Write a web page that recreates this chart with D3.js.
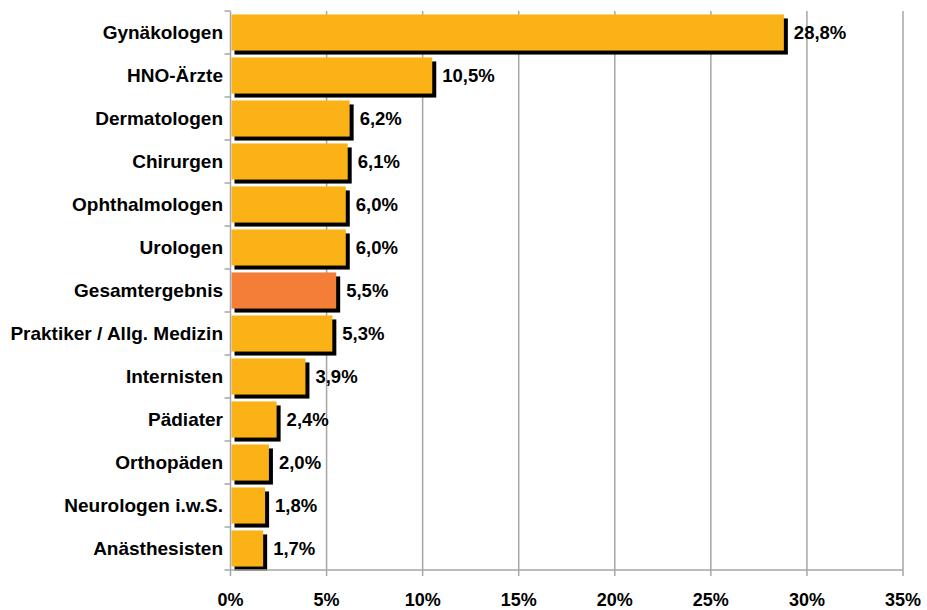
<!DOCTYPE html>
<html>
<head>
<meta charset="utf-8">
<script src="https://cdn.jsdelivr.net/npm/d3@7"></script>
<style>
  body { margin: 0; background: #fff; }
  svg { display: block; font-family: "Liberation Sans", Arial, sans-serif; }
</style>
</head>
<body>
<svg id="chart" width="927" height="610"></svg>
<script>
const categories = ["Gynäkologen", "HNO-Ärzte", "Dermatologen", "Chirurgen", "Ophthalmologen",
  "Urologen", "Gesamtergebnis", "Praktiker / Allg. Medizin", "Internisten", "Pädiater",
  "Orthopäden", "Neurologen i.w.S.", "Anästhesisten"];
const values = [28.8, 10.5, 6.2, 6.1, 6.0, 6.0, 5.5, 5.3, 3.9, 2.4, 2.0, 1.8, 1.7];
const highlight = "Gesamtergebnis";
const xTicks = [0, 5, 10, 15, 20, 25, 30, 35];

const svg = d3.select("#chart");
const plot = { left: 230.5, right: 903, top: 11, bottom: 570 };
const shadow = 4;

const x = d3.scaleLinear().domain([0, 35]).range([plot.left, plot.right]);
const y = d3.scaleBand().domain(categories).range([plot.top, plot.bottom]).paddingInner(0.16).paddingOuter(0.08);
const yb = d3.scaleBand().domain(categories).range([plot.top, plot.bottom]);

// gridlines
svg.append("g").selectAll("line")
  .data(xTicks.slice(1))
  .join("line")
  .attr("x1", d => x(d)).attr("x2", d => x(d))
  .attr("y1", plot.top).attr("y2", plot.bottom)
  .attr("stroke", "#a6a6a6").attr("stroke-width", 1.5);

// shadows
svg.append("g").selectAll("rect")
  .data(categories)
  .join("rect")
  .attr("x", x(0) + shadow)
  .attr("y", d => y(d) + shadow)
  .attr("width", (d, i) => x(values[i]) - x(0))
  .attr("height", y.bandwidth())
  .attr("fill", "#000");

// bars
svg.append("g").selectAll("rect")
  .data(categories)
  .join("rect")
  .attr("x", x(0) + 1)
  .attr("y", d => y(d))
  .attr("width", (d, i) => x(values[i]) - x(0) - 1)
  .attr("height", y.bandwidth())
  .attr("fill", d => d === highlight ? "#f47e37" : "#fbb217");

// value labels
svg.append("g").selectAll("text")
  .data(categories)
  .join("text")
  .attr("x", (d, i) => x(values[i]) + shadow + 6)
  .attr("y", d => y(d) + y.bandwidth() / 2 + 6.5)
  .attr("font-size", 18.5).attr("font-weight", "bold").attr("fill", "#000")
  .text((d, i) => d3.format(".1f")(values[i]).replace(".", ",") + "%");

// left axis
const yAxis = svg.append("g");
yAxis.append("line")
  .attr("x1", plot.left).attr("x2", plot.left).attr("y1", plot.top).attr("y2", plot.bottom)
  .attr("stroke", "#a6a6a6").attr("stroke-width", 1.5);
yAxis.selectAll("line.tick")
  .data(categories.map(c => yb(c)).concat([plot.bottom]))
  .join("line").attr("class", "tick")
  .attr("x1", plot.left - 6).attr("x2", plot.left)
  .attr("y1", d => d).attr("y2", d => d)
  .attr("stroke", "#a6a6a6").attr("stroke-width", 1.5);
yAxis.selectAll("text")
  .data(categories)
  .join("text")
  .attr("x", 223)
  .attr("y", d => yb(d) + yb.bandwidth() / 2 + 6.5)
  .attr("text-anchor", "end")
  .attr("font-size", 19).attr("font-weight", "bold").attr("fill", "#000")
  .text(d => d);

// bottom axis
const xAxis = svg.append("g");
xAxis.append("line")
  .attr("x1", plot.left).attr("x2", plot.right).attr("y1", plot.bottom).attr("y2", plot.bottom)
  .attr("stroke", "#a6a6a6").attr("stroke-width", 1.5);
xAxis.selectAll("line.tick")
  .data(xTicks)
  .join("line").attr("class", "tick")
  .attr("x1", d => x(d)).attr("x2", d => x(d))
  .attr("y1", plot.bottom).attr("y2", plot.bottom + 6)
  .attr("stroke", "#a6a6a6").attr("stroke-width", 1.5);
xAxis.selectAll("text")
  .data(xTicks)
  .join("text")
  .attr("x", d => x(d))
  .attr("y", 606)
  .attr("text-anchor", "middle")
  .attr("font-size", 18).attr("font-weight", "bold").attr("fill", "#000")
  .text(d => d + "%");
</script>
</body>
</html>
